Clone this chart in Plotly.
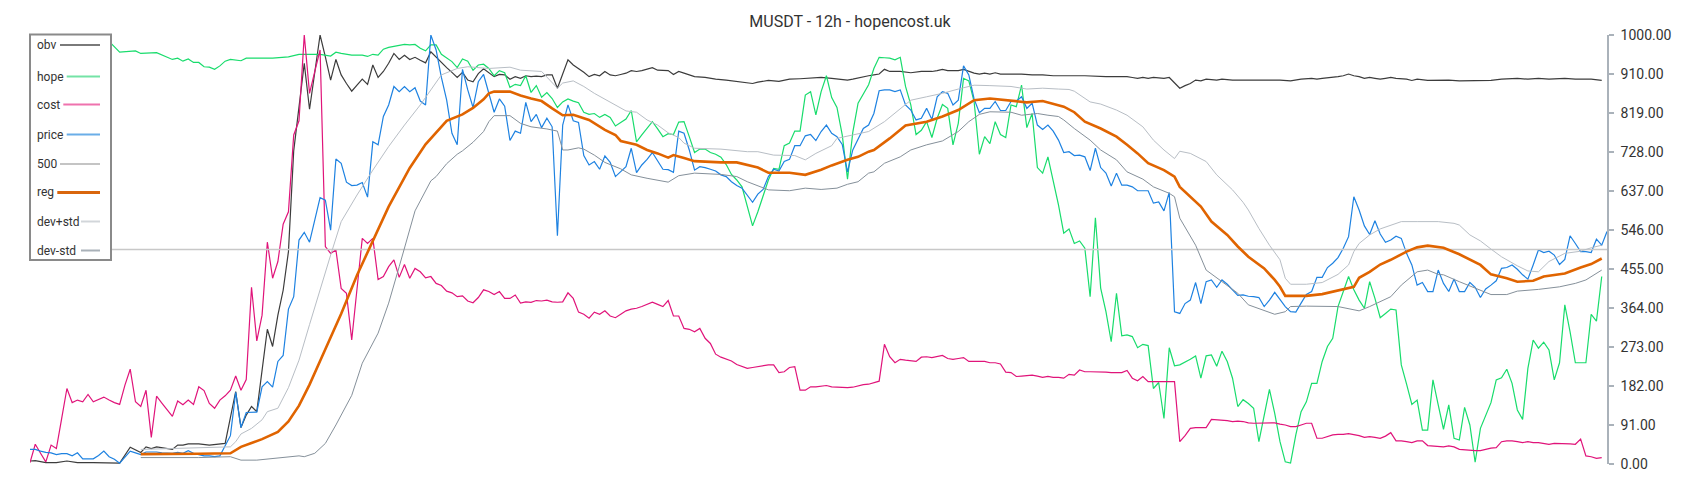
import plotly.graph_objects as go

TITLE = "MUSDT - 12h - hopencost.uk"
y_ticks = [0, 91, 182, 273, 364, 455, 546, 637, 728, 819, 910, 1000]
series_names = ["obv", "hope", "cost", "price", "500", "reg", "dev+std", "dev-std"]

# ---- series values (bar index based) ----
price = [34, 34, 30, 27, 26, 22, 24, 24, 19, 26, 12, 12, 12, 20, 30, 17, 11, 2, 17, 30,
         26, 22, 28, 28, 28, 26, 25, 25, 27, 25, 31, 25, 22, 19, 19, 17, 19, 43, 66, 167,
         85, 120, 121, 121, 180, 192, 179, 239, 253, 361,
         390, 522, 540, 517, 569, 621, 615, 545, 711, 701, 657, 649, 650, 656, 622, 751, 744, 810, 837, 880,
         868, 880, 868, 877, 846, 837, 1000, 965, 901, 848, 771, 744, 920, 872, 831, 891, 908, 864, 820, 851,
         834, 754, 776, 771, 843, 798, 815, 784, 806, 786,
         532, 790, 837, 800, 796, 719, 697, 705, 687, 718, 703, 670, 681, 693, 736, 679, 697, 710, 726, 706,
         687, 686, 680, 776, 771, 732, 685, 693, 691, 687, 683, 674, 670, 658, 649, 643, 627, 610, 629, 640,
         670, 687, 683, 705, 710, 742, 742, 765, 768, 754,
         775, 790, 771, 763, 745, 681, 732, 758, 782, 790, 817, 870, 872, 872, 868, 872, 837, 825, 802, 806,
         829, 803, 856, 868, 864, 837, 848, 928, 907, 851, 819, 829, 829, 845, 824, 824, 845, 846, 856, 829,
         841, 790, 780, 790, 776, 755, 726, 728, 719, 720,
         716, 684, 736, 691, 678, 648, 678, 650, 650, 646, 637, 637, 637, 608, 611, 590, 633, 355, 351, 374,
         382, 423, 374, 425, 429, 412, 429, 419, 407, 393, 394, 391, 390, 388, 367, 382, 400, 382, 367, 355,
         354, 375, 395, 402, 435, 435, 458, 468, 481, 503,
         530, 623, 592, 555, 535, 567, 536, 517, 522, 531, 526, 491, 464, 417, 423, 402, 402, 452, 421, 402,
         431, 402, 402, 423, 412, 388, 408, 417, 427, 456, 458, 464, 454, 441, 431, 464, 499, 493, 496, 487,
         465, 477, 532, 514, 495, 495, 493, 524, 510, 542]

cost = [3, 46, 25, 5, 44, 36, 106, 176, 143, 149, 145, 162, 145, 150, 156, 149, 143, 139, 184, 221,
        145, 134, 172, 62, 158, 142, 126, 111, 147, 138, 149, 139, 180, 171, 141, 130, 149, 159, 172, 205,
        172, 197, 412, 287, 347, 517, 433, 472, 559, 588,
        767, 800, 1000, 864, 915, 965, 507, 491, 499, 409, 398, 289, 408, 526, 514, 526, 430, 437, 460, 476,
        435, 465, 433, 456, 448, 434, 437, 421, 416, 403, 399, 390, 392, 380, 376, 388, 406, 402, 395, 402,
        386, 386, 394, 375, 378, 377, 381, 380, 382, 378,
        377, 378, 399, 386, 354, 349, 340, 354, 349, 357, 345, 341, 349, 357, 361, 363, 367, 372, 377, 372,
        367, 381, 345, 345, 316, 314, 308, 316, 293, 281, 256, 249, 244, 240, 232, 227, 223, 225, 227, 229,
        231, 231, 213, 215, 225, 227, 172, 172, 180, 180,
        182, 183, 180, 179, 178, 178, 179, 182, 185, 186, 190, 193, 279, 250, 236, 244, 242, 241, 239, 249,
        250, 248, 250, 253, 246, 244, 246, 248, 239, 239, 239, 239, 236, 236, 233, 214, 213, 204, 205, 206,
        207, 205, 202, 204, 202, 202, 200, 209, 207, 219,
        215, 215, 215, 215, 214, 213, 213, 213, 218, 200, 194, 204, 192, 192, 193, 193, 192, 192, 52, 66,
        83, 85, 85, 85, 104, 103, 103, 101, 99, 100, 99, 96, 95, 95, 96, 96, 96, 93, 91, 87,
        87, 91, 95, 95, 60, 60, 64, 68, 69, 69,
        71, 69, 66, 62, 64, 62, 60, 65, 73, 54, 54, 52, 50, 54, 54, 43, 42, 40, 40, 42,
        40, 34, 33, 31, 31, 31, 34, 37, 38, 52, 54, 54, 52, 50, 52, 50, 50, 48, 46, 48,
        48, 48, 47, 46, 58, 19, 17, 13, 15]

obv_t = ([0, 1, 3, 5, 7, 9, 12, 15, 17, 19, 20, 21, 22, 23, 24, 26, 27, 28, 29, 30,
          32, 34, 36, 37, 39, 40, 41, 42, 43, 44, 45, 46, 47, 48, 49, 50, 51]
         + list(range(52, 124))
         + [124, 126, 128, 130, 132, 134, 136, 137, 138, 140, 142, 144, 146, 148, 150, 152, 154, 155, 156, 158,
            159, 160, 161, 162, 163, 165, 167, 169, 171, 172, 173, 174, 176, 177, 178, 179, 180, 181, 182, 183,
            184, 186, 188, 190, 192, 194, 200, 204, 208, 209, 210, 211, 212, 213, 215, 216, 217, 218, 219, 220,
            221, 222, 223, 225, 226, 228, 231, 237, 239, 241, 243, 244, 245, 247, 248, 249, 250, 251, 252, 253,
            254, 255, 256, 257, 258, 259, 261, 262, 263, 265, 267, 269, 271, 274, 277, 279, 282, 284, 286, 288,
            291, 293, 296, 298])
obv_v = ([7, 8, 3, 3, 7, 3, 3, 3, 2, 39, 33, 27, 40, 36, 40, 37, 34, 44, 44, 47,
          47, 44, 46, 48, 169, 85, 114, 134, 122, 217, 314, 274, 347, 405, 495, 730, 833]
         + [934, 827, 915, 1000, 949, 895, 943, 907, 887, 869, 883, 897, 885, 930, 901, 915, 934, 957, 943, 953,
            943, 948, 941, 935, 961, 948, 935, 924, 913, 901, 913, 895, 891, 910, 921, 911, 903, 908, 907, 897,
            903, 899, 905, 903, 904, 903, 907, 907, 876, 909, 942, 930, 922, 913, 903, 908, 905, 915, 907, 905,
            908, 911, 917, 915, 917, 920, 924, 918, 917, 917, 908, 915]
         + [911, 903, 901, 897, 895, 892, 890, 887, 890, 894, 892, 897, 898, 899, 901, 899, 897, 895, 897, 903,
            905, 907, 909, 920, 915, 915, 912, 915, 915, 917, 920, 917, 917, 920, 915, 911, 909, 911, 909, 912,
            909, 909, 909, 907, 907, 905, 905, 903, 903, 901, 899, 901, 899, 901, 899, 901, 888, 876, 882, 887,
            895, 893, 897, 895, 897, 895, 895, 895, 893, 897, 899, 897, 899, 901, 903, 905, 909, 905, 903, 899,
            901, 899, 897, 899, 901, 899, 897, 894, 897, 894, 895, 895, 893, 893, 894, 897, 899, 897, 899, 897,
            899, 897, 897, 894])

hope_t = ([15, 17, 20, 21, 24, 26, 27, 28, 29, 30, 31, 32, 33, 34, 35, 36, 37, 38, 40, 41,
           46, 49, 51, 55, 56, 57, 58, 59, 61] + list(range(63, 299)))
hope_v = ([985, 960, 963, 957, 959, 949, 943, 946, 939, 944, 936, 936, 926, 925, 920, 928, 939, 943, 940, 946,
           946, 949, 955, 955, 953, 951, 960, 957, 953]
          + [953, 950, 955, 953, 967, 971, 973, 975, 978, 977, 978,
             969, 963, 977, 977, 955, 946, 938, 924, 944, 939,
             918, 930, 932, 922, 905, 917, 912, 878, 885, 882,
             905, 866, 882, 855, 866, 852, 831,
             844, 851, 846, 842, 820, 815, 817, 808, 815, 808,
             788, 796, 804, 824, 751, 767, 782, 798, 781, 763,
             770, 768, 797, 798, 763, 726, 734, 734, 726, 722,
             715, 698, 675, 662, 646, 600, 555, 588, 625, 662,
             689, 687, 742, 748, 776, 776, 860, 868, 814, 868,
             905, 854, 831, 767, 664, 773, 841, 862, 884, 922,
             948, 947, 946, 942, 948, 880, 837, 768, 778, 798,
             761, 806, 838, 829, 744, 794, 899, 893, 845, 722,
             763, 747, 798, 768, 761, 837, 833, 883, 784, 817,
             691, 678, 716, 660, 604, 538, 548, 514, 520, 503,
             390, 574, 410, 355, 285, 398, 299, 301, 297, 271,
             279, 276, 176, 190, 106, 271, 229, 231, 237, 244,
             252, 200, 252, 254, 228, 263, 239, 200, 134, 150,
             141, 130, 52, 114, 174, 118, 52, 5, 2, 68,
             122, 145, 188, 188, 239, 274, 293, 367, 402, 437,
             406, 382, 363, 425, 386, 341, 351, 361, 359, 231,
             186, 139, 149, 79, 79, 196, 138, 81, 138, 60,
             56, 132, 91, 4, 83, 114, 143, 196, 201, 221,
             188, 126, 104, 223, 289, 270, 284, 266, 196, 236,
             371, 308, 236, 236, 236, 349, 333, 437])

level_500 = 500

reg_t = [21, 24, 27, 30, 32, 38, 39, 40, 42, 44, 47, 49, 51, 53, 55, 59, 62, 65, 68, 72,
         75, 79, 82, 84, 86, 87, 88, 91, 93, 95, 97, 99, 101, 103, 106, 109, 111, 112, 115, 117,
         119, 121, 122, 124, 126, 131, 134, 138, 140, 144, 147, 150, 152, 155, 157, 159, 160, 163, 166, 170,
         173, 176, 179, 182, 185, 189, 192, 194, 196, 198, 200, 203, 206, 208, 210, 212, 215, 217, 218, 222,
         224, 227, 229, 231, 234, 236, 237, 238, 242, 245, 248, 251, 252, 254, 256, 258, 261, 263, 265, 268,
         271, 273, 275, 277, 280, 282, 285, 287, 291, 294, 296, 298]
reg_v = [23, 23, 23, 24, 24, 25, 33, 40, 49, 58, 75, 99, 136, 185, 240, 350, 440, 518, 600, 690,
         745, 800, 815, 830, 850, 864, 868, 868, 859, 852, 846, 829, 813, 814, 802, 779, 767, 753, 744, 732,
         724, 714, 720, 713, 706, 703, 703, 691, 679, 679, 674, 686, 696, 709, 716, 728, 732, 759, 789, 798,
         810, 825, 848, 852, 848, 843, 846, 840, 833, 820, 798, 782, 763, 744, 724, 701, 685, 670, 646, 600,
         565, 534, 507, 483, 456, 429, 413, 392, 392, 396, 404, 413, 434, 448, 465, 476, 495, 505, 509, 504,
         489, 476, 464, 442, 433, 425, 427, 437, 444, 458, 466, 479]

devp_t = [21, 38, 39, 40, 42, 44, 45, 47, 49, 51, 53, 55, 57, 59, 62, 65, 68, 71, 74, 76,
          78, 81, 83, 87, 91, 93, 97, 100, 101, 103, 105, 107, 110, 112, 113, 115, 117, 119, 121, 123,
          124, 126, 131, 136, 138, 141, 145, 147, 149, 152, 153, 156, 159, 162, 165, 167, 170, 173, 176, 179,
          182, 186, 189, 192, 195, 197, 198, 201, 203, 206, 208, 211, 213, 215, 217, 218, 220, 223, 225, 228,
          230, 231, 233, 235, 237, 238, 239, 242, 245, 248, 250, 251, 252, 254, 256, 258, 260, 263, 267, 270,
          271, 273, 275, 277, 279, 282, 284, 286, 288, 291, 294, 296, 298]
devp_v = [34, 40, 52, 70, 83, 103, 122, 130, 178, 242, 325, 407, 487, 565, 627, 685, 740, 790, 837, 872,
          907, 922, 926, 922, 925, 918, 915, 876, 888, 893, 880, 864, 843, 831, 823, 820, 802, 790, 772, 761,
          748, 736, 734, 728, 728, 720, 719, 709, 724, 742, 759, 767, 775, 798, 829, 848, 856, 864, 874, 883,
          882, 880, 874, 876, 874, 873, 869, 844, 839, 825, 813, 786, 755, 732, 712, 729, 724, 705, 674, 639,
          610, 592, 549, 510, 476, 433, 419, 419, 423, 442, 464, 495, 514, 534, 548, 557, 565, 565, 565, 561,
          557, 534, 520, 501, 483, 462, 450, 448, 472, 491, 496, 504, 510]

devm_t = [21, 32, 38, 40, 43, 46, 49, 51, 52, 54, 56, 58, 61, 63, 66, 68, 70, 72, 73, 76,
          77, 79, 81, 82, 84, 86, 87, 88, 91, 93, 95, 98, 100, 101, 102, 104, 105, 107, 109, 112,
          114, 117, 119, 121, 123, 124, 126, 131, 134, 136, 139, 140, 144, 147, 150, 153, 155, 157, 159, 160,
          162, 165, 167, 170, 173, 176, 178, 180, 182, 186, 188, 191, 193, 195, 196, 198, 201, 203, 206, 208,
          211, 213, 216, 217, 218, 221, 223, 226, 229, 231, 234, 236, 238, 239, 242, 245, 248, 252, 254, 258,
          260, 263, 265, 267, 268, 271, 275, 277, 280, 282, 286, 290, 293, 295, 298]
devm_v = [15, 15, 17, 9, 9, 13, 17, 19, 17, 25, 48, 91, 160, 235, 305, 375, 460, 550, 590, 660,
          670, 700, 722, 730, 750, 775, 798, 812, 812, 794, 786, 781, 776, 732, 732, 737, 734, 720, 703, 688,
          674, 666, 662, 657, 672, 674, 678, 675, 670, 658, 643, 639, 637, 643, 640, 643, 652, 658, 678, 681,
          701, 716, 732, 744, 753, 775, 798, 815, 821, 820, 813, 817, 813, 810, 802, 782, 755, 732, 709, 681,
          664, 646, 631, 623, 573, 510, 452, 425, 398, 371, 357, 349, 355, 367, 368, 368, 367, 357, 367, 390,
          417, 448, 452, 442, 441, 425, 406, 395, 395, 403, 407, 413, 421, 429, 452]

# ---- styling ----
W, H = 1700, 500
ML, MR, MT, MB = 30, 93, 35, 36
FONT = "Roboto"
TXT = "#333333"

line_colors = {"obv": "#3c3c3c", "hope": "#18dc6c", "cost": "#e0147a", "price": "#1e82e1",
               "500": "#c8c8c8", "reg": "#e06400", "dev+std": "#b8bec5", "dev-std": "#85909a"}
line_widths = {"obv": 1.2, "hope": 1.2, "cost": 1.2, "price": 1.2,
               "500": 1.6, "reg": 2.6, "dev+std": 1.0, "dev-std": 1.0}
legend_colors = {"obv": "#7a7a7a", "hope": "#74e3a6", "cost": "#ef72ae", "price": "#6aaee8",
                 "500": "#c4c4c4", "reg": "#d9660d", "dev+std": "#d2d6da", "dev-std": "#a9b1b8"}
legend_widths = {"obv": 2, "hope": 2, "cost": 2, "price": 2, "500": 2, "reg": 3, "dev+std": 2, "dev-std": 2}

n_bars = len(price)
bars = list(range(n_bars))
series_data = {
    "obv": (obv_t, obv_v),
    "hope": (hope_t, hope_v),
    "cost": (list(range(len(cost))), cost),
    "price": (bars, price),
    "500": ([0, n_bars - 1], [level_500, level_500]),
    "reg": (reg_t, reg_v),
    "dev+std": (devp_t, devp_v),
    "dev-std": (devm_t, devm_v),
}

fig = go.Figure()
for name in series_names:
    xs, ys = series_data[name]
    fig.add_trace(go.Scatter(x=xs, y=ys, mode="lines", name=name, showlegend=False,
                             hoverinfo="skip",
                             line=dict(color=line_colors[name], width=line_widths[name])))

# ---- custom legend (text left, swatch right) ----
PW = W - ML - MR
PH = H - MT - MB


def px_x(px):
    return (px - ML) / PW


def px_y(py):
    return (H - MB - py) / PH


shapes = [dict(type="rect", xref="paper", yref="paper", layer="above",
               x0=px_x(30), x1=px_x(111), y0=px_y(260), y1=px_y(34.5),
               fillcolor="white", line=dict(color="#8a8a8a", width=2))]
annotations = []
row_y = [45, 76.5, 104.5, 134.5, 164, 192.5, 221.5, 250.5]
swatch_x0 = [60, 66.7, 63.3, 66.7, 60, 57.3, 81, 81]
for name, ry, sx in zip(series_names, row_y, swatch_x0):
    annotations.append(dict(xref="paper", yref="paper", x=px_x(35), y=px_y(ry),
                            xanchor="left", yanchor="middle", showarrow=False, text=name,
                            font=dict(family=FONT, size=12, color=TXT)))
    shapes.append(dict(type="line", xref="paper", yref="paper", layer="above",
                       x0=px_x(sx), x1=px_x(100), y0=px_y(ry), y1=px_y(ry),
                       line=dict(color=legend_colors[name], width=legend_widths[name])))

fig.update_layout(
    width=W, height=H,
    margin=dict(l=ML, r=MR, t=MT, b=MB, pad=0),
    paper_bgcolor="white", plot_bgcolor="white",
    title=dict(text=TITLE, x=0.5, xref="container", xanchor="center",
               y=1 - 21 / H, yref="container", yanchor="middle",
               font=dict(family=FONT, size=16, color=TXT)),
    font=dict(family=FONT, color=TXT),
    showlegend=False,
    shapes=shapes,
    annotations=annotations,
    xaxis=dict(visible=False, range=[0, n_bars - 1], fixedrange=True),
    yaxis=dict(side="right", range=[0, 1000], tickvals=y_ticks,
               ticktext=[f"{v:.2f}" for v in y_ticks],
               showgrid=False, zeroline=False, showline=True,
               linecolor="#aab2ba", linewidth=1.5,
               ticks="outside", ticklen=5, tickwidth=1.5, tickcolor="#aab2ba",
               ticklabelstandoff=4,
               tickfont=dict(family=FONT, size=14, color=TXT), fixedrange=True),
)

fig.write_html("out.html", config={"displayModeBar": False},
               post_script="document.body.style.margin='0';document.body.style.overflow='hidden';")
